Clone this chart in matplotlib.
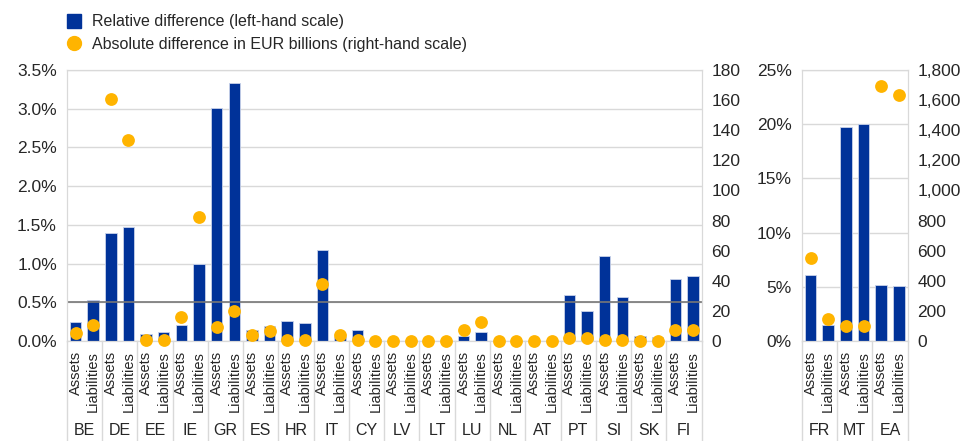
import matplotlib.pyplot as plt
from matplotlib.lines import Line2D
from matplotlib.ticker import FuncFormatter
import matplotlib.transforms as mtransforms

plt.rcParams['font.family'] = ['Liberation Sans', 'DejaVu Sans']

# data
countries = ['BE', 'DE', 'EE', 'IE', 'GR', 'ES', 'HR', 'IT', 'CY',
             'LV', 'LT', 'LU', 'NL', 'AT', 'PT', 'SI', 'SK', 'FI']
rel_assets = [0.24, 1.39, 0.09, 0.21, 3.01, 0.14, 0.26, 1.17, 0.14,
              0.0, 0.0, 0.06, 0.0, 0.0, 0.59, 1.10, 0.06, 0.80]
rel_liabs = [0.53, 1.47, 0.11, 1.00, 3.33, 0.19, 0.23, 0.05, 0.02,
             0.0, 0.0, 0.11, 0.0, 0.0, 0.39, 0.57, 0.05, 0.84]
abs_assets = [5.5, 160.8, 0.5, 15.7, 9.1, 4.0, 0.5, 37.9, 0.5,
              0.0, 0.0, 7.3, 0.0, 0.0, 1.8, 0.7, 0.3, 7.3]
abs_liabs = [10.6, 133.6, 0.5, 82.4, 19.9, 6.6, 0.5, 4.0, 0.3,
             0.0, 0.0, 12.4, 0.0, 0.0, 2.2, 0.7, 0.3, 7.3]

countries2 = ['FR', 'MT', 'EA']
rel_assets2 = [6.1, 19.7, 5.14]
rel_liabs2 = [1.48, 20.0, 5.05]
abs_assets2 = [549, 100, 1693]
abs_liabs2 = [144, 100, 1633]

side_labels = ['Assets', 'Liabilities']

BLUE = '#003299'
ORANGE = '#FFB400'
GRID = '#d9d9d9'
TXT = '#262626'


def interleave(a, b):
    out = []
    for x, y in zip(a, b):
        out += [x, y]
    return out


def draw_panel(ax, names, rel_a, rel_l, abs_a, abs_l, rel_max, rel_step, abs_max, abs_step, pct_fmt, abs_fmt):
    rel = interleave(rel_a, rel_l)
    absv = interleave(abs_a, abs_l)
    pos = list(range(len(rel)))

    ax.bar(pos, rel, width=0.65, color=BLUE, edgecolor='#c8d2ea', linewidth=0.6, zorder=2)
    ax.set_xlim(-0.5, len(rel) - 0.5)
    ax.set_ylim(0, rel_max)
    ax.set_yticks([i * rel_step for i in range(int(round(rel_max / rel_step)) + 1)])
    ax.yaxis.set_major_formatter(FuncFormatter(pct_fmt))
    ax.grid(axis='y', color=GRID, linewidth=1, zorder=0)
    ax.set_axisbelow(True)
    ax.set_xticks(pos)
    ax.set_xticklabels(side_labels * len(names), rotation=90, fontsize=10.5, color=TXT)
    ax.tick_params(axis='x', length=0, pad=7)
    ax.tick_params(axis='y', length=0, pad=7, labelsize=12.5, labelcolor=TXT)
    for s in ax.spines.values():
        s.set_color(GRID)

    # separators between countries and country names below
    trans = mtransforms.blended_transform_factory(ax.transData, ax.transAxes)
    for i in range(len(names) + 1):
        ax.plot([i * 2 - 0.5] * 2, [0, -0.37], transform=trans, color=GRID,
                linewidth=1, clip_on=False)
    for i, n in enumerate(names):
        ax.text(i * 2 + 0.5, -0.33, n, transform=trans, ha='center', va='center',
                fontsize=11.5, color=TXT)

    ax2 = ax.twinx()
    ax2.scatter(pos, absv, s=85, color=ORANGE, zorder=3, clip_on=False, linewidths=0)
    ax2.set_ylim(0, abs_max)
    ax2.set_yticks([i * abs_step for i in range(int(round(abs_max / abs_step)) + 1)])
    ax2.yaxis.set_major_formatter(FuncFormatter(abs_fmt))
    ax2.tick_params(axis='y', length=0, pad=7, labelsize=12.5, labelcolor=TXT)
    for s in ax2.spines.values():
        s.set_color(GRID)
    return ax2


fig = plt.figure(figsize=(9.71, 4.41), dpi=100)

ax = fig.add_axes([66.7 / 971, 1 - 341 / 441, 635 / 971, 271 / 441])
draw_panel(ax, countries, rel_assets, rel_liabs, abs_assets, abs_liabs,
           3.5, 0.5, 180, 20,
           lambda v, p: f'{v:.1f}%', lambda v, p: f'{v:.0f}')
ax.axhline(0.5, color='#777777', linewidth=1.2, zorder=2.5)

axr = fig.add_axes([801.7 / 971, 1 - 341 / 441, 106 / 971, 271 / 441])
draw_panel(axr, countries2, rel_assets2, rel_liabs2, abs_assets2, abs_liabs2,
           25, 5, 1800, 200,
           lambda v, p: f'{v:.0f}%', lambda v, p: f'{v:,.0f}')

handles = [
    Line2D([], [], linestyle='none', marker='s', markersize=10, color=BLUE),
    Line2D([], [], linestyle='none', marker='o', markersize=10, color=ORANGE),
]
fig.legend(handles, ['Relative difference (left-hand scale)',
                     'Absolute difference in EUR billions (right-hand scale)'],
           loc='upper left', bbox_to_anchor=(52 / 971, 1.0), frameon=False,
           fontsize=11.5, handlelength=1.0, handletextpad=0.6, labelspacing=0.45,
           labelcolor=TXT)

fig.savefig('out.png', dpi=100)
